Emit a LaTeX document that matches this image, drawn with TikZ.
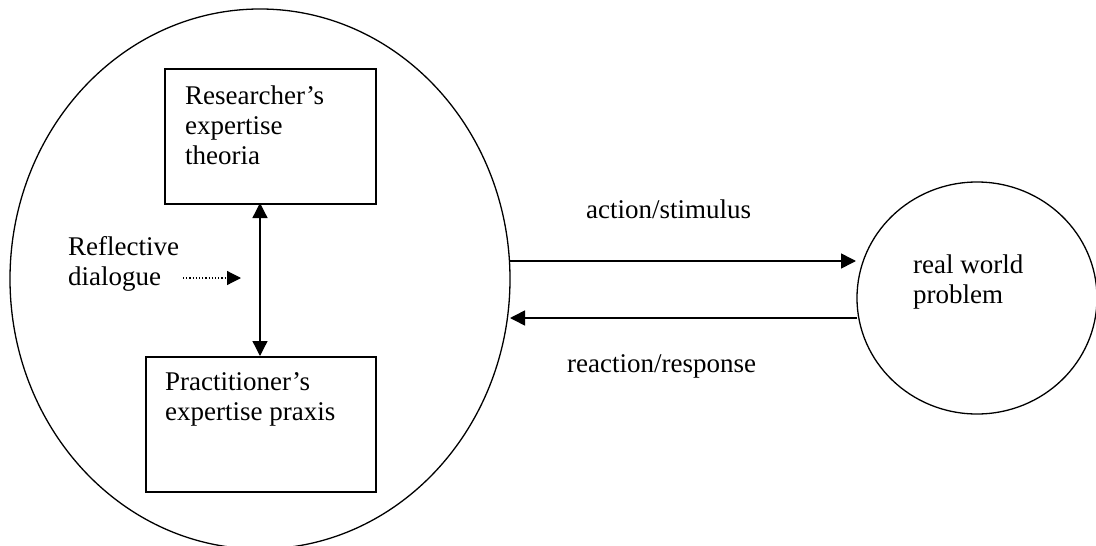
\documentclass[tikz,border=0pt]{standalone}
\usepackage{fontspec}
\setmainfont{Liberation Serif}
\usetikzlibrary{shapes.geometric,arrows.meta}
\begin{document}
\begin{tikzpicture}[x=1pt,y=-1pt,
  every node/.style={font=\fontsize{27}{30}\selectfont},
  oval/.style={draw,ellipse,line width=1.3pt,inner sep=0pt},
  expbox/.style={draw,line width=2pt,anchor=north west,inner sep=0pt},
  label/.style={anchor=base west,inner sep=0pt,align=left},
  flow/.style={line width=1.6pt,-{Triangle[length=15pt,width=15pt]}},
  twoway/.style={line width=1.3pt,{Triangle[length=15pt,width=15pt]}-{Triangle[length=15pt,width=15pt]}},
  hint/.style={line width=1.2pt,dotted,-{Triangle[length=14pt,width=14pt]}}]
\useasboundingbox (0,0) rectangle (1096,546);
\fill[white] (0,0) rectangle (1096,546);

% outer circle holding both kinds of expertise
\node[oval,minimum width=500pt,minimum height=540pt] (team) at (260,279) {};
% the problem in the field
\node[oval,minimum width=240pt,minimum height=232pt] (world) at (977,298) {};

% the two expertise boxes
\node[expbox,minimum width=211pt,minimum height=135pt] (res) at (164,68) {};
\node[expbox,minimum width=230pt,minimum height=135pt] (prac) at (145,356) {};

% multi-line labels are placed by the baseline of their last line
\node[label] (restext) at (185,164) {Researcher’s\\expertise\\theoria};
\node[label] (practext) at (165,420) {Practitioner’s\\expertise praxis};
\node[label] (refl) at (68,285) {Reflective\\dialogue};
\node[label] (wtext) at (913,303) {real world\\problem};
\node[label] (act) at (586,218) {action/stimulus};
\node[label] (react) at (567,372) {reaction/response};

% dialogue between the boxes
\coordinate (dlgtop) at (260,203);
\coordinate (dlgbot) at (260,356);
\draw[twoway] (dlgtop) -- (dlgbot);
\coordinate (hs) at (183,278);
\coordinate (he) at (241,278);
\draw[hint] (hs) -- (he);

% exchange with the real world
\coordinate (a1s) at (510,261);
\coordinate (a1e) at (856,261);
\coordinate (a2s) at (857,318);
\coordinate (a2e) at (510,318);
\draw[flow] (a1s) -- (a1e);
\draw[flow] (a2s) -- (a2e);
\end{tikzpicture}
\end{document}
